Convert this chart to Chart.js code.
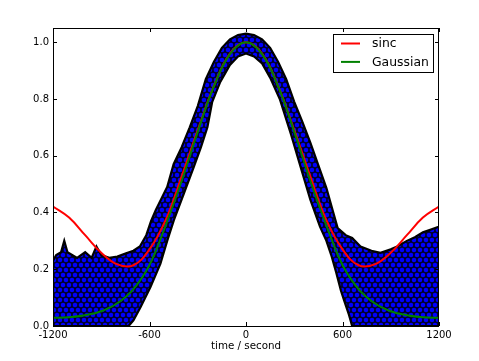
<!DOCTYPE html>
<html>
<head>
<meta charset="utf-8">
<script src="https://cdn.jsdelivr.net/npm/chart.js@4.4.1/dist/chart.umd.min.js"></script>
<style>
  html, body { margin: 0; padding: 0; background: #fff; }
  #wrap { width: 479px; height: 361px; }
</style>
</head>
<body>
<div id="wrap"><canvas id="chart"></canvas></div>
<script>
// x positions of the two fitted curves (seconds)
const curveX = [-1200, -1100, -1000, -900, -800, -700, -600, -500, -400, -300, -200, -100, 0,
  100, 200, 300, 400, 500, 600, 700, 800, 900, 1000, 1100, 1200]
const sincY = [0.421, 0.382, 0.32, 0.258, 0.217, 0.214, 0.27, 0.373, 0.527, 0.69, 0.845, 0.96, 1.0,
  0.96, 0.845, 0.69, 0.527, 0.373, 0.27, 0.214, 0.217, 0.258, 0.32, 0.382, 0.421]
const gaussY = [0.029, 0.031, 0.038, 0.052, 0.08, 0.13, 0.215, 0.354, 0.511, 0.684, 0.844, 0.958, 1.0,
  0.958, 0.844, 0.684, 0.511, 0.354, 0.215, 0.13, 0.08, 0.052, 0.038, 0.031, 0.029]

// outline of the cloud of measured points, upper edge left to right
const cloudTop = [[-1200, 0], [-1200, 0.23], [-1180, 0.25], [-1150, 0.26], [-1130, 0.3], [-1110, 0.26],
  [-1050, 0.24], [-1000, 0.26], [-960, 0.24], [-930, 0.28], [-900, 0.25], [-850, 0.24], [-800, 0.245],
  [-750, 0.255], [-700, 0.265], [-660, 0.28], [-620, 0.32], [-590, 0.37], [-560, 0.41], [-520, 0.455],
  [-490, 0.49], [-450, 0.57], [-400, 0.63], [-350, 0.7], [-300, 0.775], [-250, 0.87], [-200, 0.93],
  [-150, 0.98], [-100, 1.01], [-50, 1.025], [0, 1.03], [50, 1.025], [100, 1.01], [150, 0.98],
  [200, 0.93], [250, 0.87], [300, 0.79], [350, 0.72], [400, 0.646], [450, 0.566], [500, 0.486],
  [540, 0.405], [570, 0.345], [620, 0.32], [660, 0.31], [712, 0.28], [780, 0.265], [836, 0.258],
  [900, 0.27], [940, 0.28], [1000, 0.3], [1050, 0.313], [1100, 0.33], [1150, 0.34], [1200, 0.35]]
// lower edge, right to left
const cloudBottom = [[1200, 0], [660, 0], [640, 0.04], [610, 0.09], [590, 0.125], [560, 0.19],
  [530, 0.25], [500, 0.3], [460, 0.35], [400, 0.445], [340, 0.56], [280, 0.675], [210, 0.8],
  [150, 0.875], [100, 0.925], [50, 0.95], [0, 0.96], [-50, 0.95], [-100, 0.92], [-160, 0.86],
  [-210, 0.79], [-240, 0.7], [-280, 0.63], [-325, 0.56], [-387, 0.466], [-449, 0.372], [-490, 0.3],
  [-532, 0.22], [-594, 0.137], [-656, 0.066], [-700, 0.02], [-730, 0], [-1200, 0]]

const xTicks = [-1200, -600, 0, 600, 1200]
const yTicks = [0, 0.2, 0.4, 0.6, 0.8, 1.0]
const legendOrder = ['sinc', 'Gaussian']

const font = 'DejaVu Sans'

function toPoints(xs, ys) {
  return xs.map((x, i) => ({ x, y: ys[i] }))
}

// blue circles with black rims, like the marker cloud
function dotPattern() {
  const c = document.createElement('canvas')
  c.width = 6
  c.height = 10
  const g = c.getContext('2d')
  g.fillStyle = '#000'
  g.fillRect(0, 0, 6, 10)
  g.fillStyle = '#0000ff'
  g.strokeStyle = '#000'
  g.lineWidth = 0.7
  for (const [cx, cy] of [[0, 0], [6, 0], [0, 10], [6, 10], [3, 5]]) {
    g.beginPath()
    g.arc(cx, cy, 2.8, 0, Math.PI * 2)
    g.fill()
    g.stroke()
  }
  return g.createPattern(c, 'repeat')
}

// frame, inward ticks and the boxed legend
const framePlugin = {
  id: 'frame',
  afterDraw(chart) {
    const { ctx, chartArea: a, scales } = chart
    ctx.save()
    ctx.strokeStyle = '#000'
    ctx.lineWidth = 1
    ctx.strokeRect(Math.round(a.left) + 0.5, Math.round(a.top) + 0.5,
      Math.round(a.right - a.left) - 1, Math.round(a.bottom - a.top))
    ctx.beginPath()
    for (const t of xTicks) {
      const px = Math.round(scales.x.getPixelForValue(t)) + 0.5
      ctx.moveTo(px, a.bottom); ctx.lineTo(px, a.bottom - 4)
      ctx.moveTo(px, a.top); ctx.lineTo(px, a.top + 4)
    }
    for (const t of yTicks) {
      const py = Math.round(scales.y.getPixelForValue(t)) + 0.5
      ctx.moveTo(a.left, py); ctx.lineTo(a.left + 4, py)
      ctx.moveTo(a.right, py); ctx.lineTo(a.right - 4, py)
    }
    ctx.stroke()

    const items = legendOrder.map(l => chart.data.datasets.find(d => d.label === l))
    const bx = a.right - 106, by = a.top + 5.5, bw = 100, bh = 38
    ctx.fillStyle = '#fff'
    ctx.fillRect(bx, by, bw, bh)
    ctx.strokeStyle = '#000'
    ctx.strokeRect(Math.round(bx) + 0.5, Math.round(by) + 0.5, bw, bh)
    ctx.font = '12.4px "' + font + '"'
    ctx.textBaseline = 'middle'
    items.forEach((d, i) => {
      const y = by + 10 + i * 18.4
      ctx.strokeStyle = d.borderColor
      ctx.lineWidth = 2
      ctx.beginPath()
      ctx.moveTo(bx + 8, y); ctx.lineTo(bx + 27, y)
      ctx.stroke()
      ctx.fillStyle = '#000'
      ctx.fillText(d.label, bx + 39, y + 0.5)
    })
    ctx.restore()
  }
}

new Chart(document.getElementById('chart'), {
  type: 'scatter',
  data: {
    datasets: [
      {
        label: 'Gaussian',
        data: toPoints(curveX, gaussY),
        showLine: true,
        borderColor: '#008000',
        borderWidth: 2,
        pointRadius: 0,
        tension: 0.4,
        order: 0
      },
      {
        label: 'sinc',
        data: toPoints(curveX, sincY),
        showLine: true,
        borderColor: '#ff0000',
        borderWidth: 2,
        pointRadius: 0,
        tension: 0.4,
        order: 1
      },
      {
        label: 'data',
        data: cloudTop.concat(cloudBottom).map(([x, y]) => ({ x, y })),
        showLine: true,
        fill: 'shape',
        backgroundColor: dotPattern(),
        borderColor: '#000',
        borderWidth: 2.2,
        pointRadius: 0,
        tension: 0,
        order: 2
      }
    ]
  },
  plugins: [framePlugin],
  options: {
    responsive: true,
    maintainAspectRatio: false,
    animation: false,
    layout: { padding: { left: 0, right: 40, top: 28, bottom: 0 } },
    plugins: {
      legend: { display: false },
      tooltip: { enabled: false }
    },
    scales: {
      x: {
        type: 'linear',
        min: -1200,
        max: 1200,
        afterBuildTicks: s => { s.ticks = xTicks.map(v => ({ value: v })) },
        afterFit: s => { s.height = 35 },
        grid: { display: false, drawTicks: false },
        border: { display: false },
        ticks: {
          padding: 3,
          color: '#000',
          maxRotation: 0,
          font: { family: font, size: 10 },
          callback: v => String(v)
        },
        title: {
          display: true,
          text: 'time / second',
          color: '#000',
          padding: { top: 0, bottom: 8 },
          font: { family: font, size: 10.3 }
        }
      },
      y: {
        min: 0,
        max: 1.05,
        afterBuildTicks: s => { s.ticks = yTicks.map(v => ({ value: v })) },
        afterFit: s => { s.width = 53 },
        grid: { display: false, drawTicks: false },
        border: { display: false },
        ticks: {
          padding: 4,
          color: '#000',
          font: { family: font, size: 10 },
          callback: v => v.toFixed(1)
        }
      }
    }
  }
})
</script>
</body>
</html>
